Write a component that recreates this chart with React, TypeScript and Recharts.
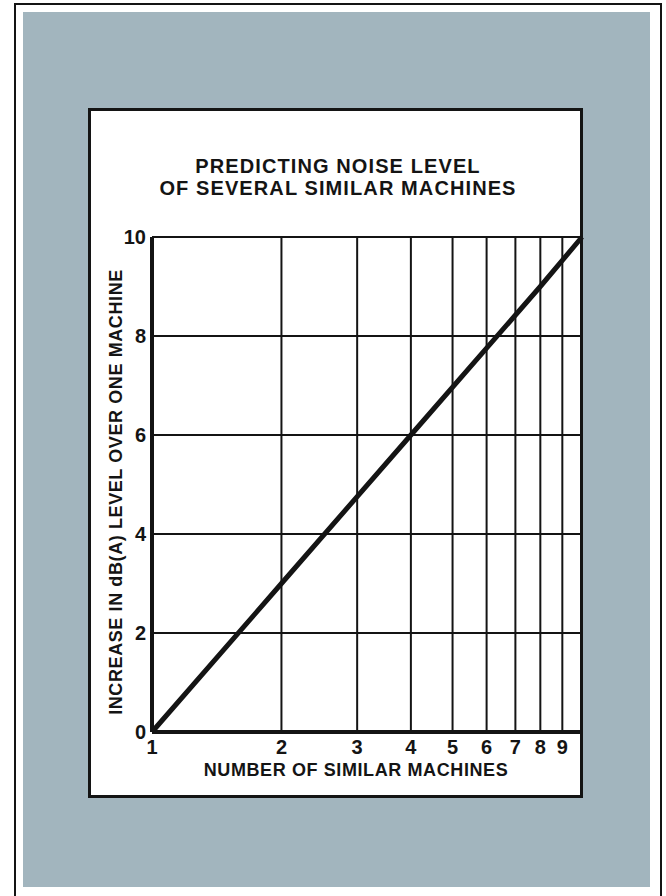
import React from 'react';
import { CartesianGrid, Line, LineChart, XAxis, YAxis } from 'recharts';

// machines vs. increase in dB(A)
const machines = [1, 2, 4, 8, 10];
const increase = [0, 3, 6, 9, 10];
const xTicks = [1, 2, 3, 4, 5, 6, 7, 8, 9, 10];
const yTicks = [0, 2, 4, 6, 8, 10];

const data = machines.map((n, i) => ({ n, db: increase[i] }));

const font = '"Liberation Sans", Arial, Helvetica, sans-serif';
const ink = '#141414';

const tickStyle = { fill: ink, fontSize: 20, fontWeight: 700, fontFamily: font };

const App = () => {
    return (
        <div style={{ position: 'absolute', left: 0, top: 0, width: 666, height: 896, background: '#fff', overflow: 'hidden', fontFamily: font }}>
            {/* page frame */}
            <div style={{ position: 'absolute', left: 14, top: 3, width: 644, height: 900, border: `2px solid ${ink}` }} />
            <div style={{ position: 'absolute', left: 23, top: 12, width: 627, height: 875, background: '#a2b5be' }} />
            <div style={{ position: 'absolute', left: 88, top: 108, width: 489, height: 684, background: '#fff', border: `3px solid ${ink}` }} />

            <div style={{ position: 'absolute', left: 88, width: 500, top: 155, textAlign: 'center', fontSize: 20, lineHeight: '22px', fontWeight: 700, letterSpacing: 1.1, color: ink }}>
                PREDICTING NOISE LEVEL<br />OF SEVERAL SIMILAR MACHINES
            </div>

            <div style={{ position: 'absolute', left: 0, top: 0 }}>
                <LineChart
                    width={666}
                    height={896}
                    data={data}
                    margin={{ top: 237, right: 84, bottom: 104, left: 92 }}>
                    <CartesianGrid stroke={ink} strokeWidth={2} horizontalValues={yTicks} verticalValues={xTicks} />
                    <XAxis
                        dataKey="n"
                        type="number"
                        scale="log"
                        domain={[1, 10]}
                        ticks={xTicks}
                        height={60}
                        tickSize={0}
                        tickMargin={8}
                        interval={0}
                        tickFormatter={(v: number) => (v === 10 ? '' : String(v))}
                        tick={tickStyle}
                        axisLine={{ stroke: ink, strokeWidth: 4 }}
                        tickLine={false}
                    />
                    <YAxis
                        type="number"
                        domain={[0, 10]}
                        ticks={yTicks}
                        width={60}
                        tickSize={0}
                        tickMargin={6}
                        interval={0}
                        tick={tickStyle}
                        axisLine={{ stroke: ink, strokeWidth: 4 }}
                        tickLine={false}
                    />
                    <Line type="linear" dataKey="db" stroke={ink} strokeWidth={5} dot={false} isAnimationActive={false} />
                </LineChart>
            </div>

            <div style={{ position: 'absolute', left: 116, top: 492, transform: 'translate(-50%, -50%) rotate(-90deg)', whiteSpace: 'nowrap', fontSize: 18, fontWeight: 700, letterSpacing: 0.6, color: ink }}>
                INCREASE IN dB(A) LEVEL OVER ONE MACHINE
            </div>
            <div style={{ position: 'absolute', left: 356, top: 770, transform: 'translate(-50%, -50%)', whiteSpace: 'nowrap', fontSize: 18, fontWeight: 700, letterSpacing: 0.6, color: ink }}>
                NUMBER OF SIMILAR MACHINES
            </div>
        </div>
    );
};

export default App;
